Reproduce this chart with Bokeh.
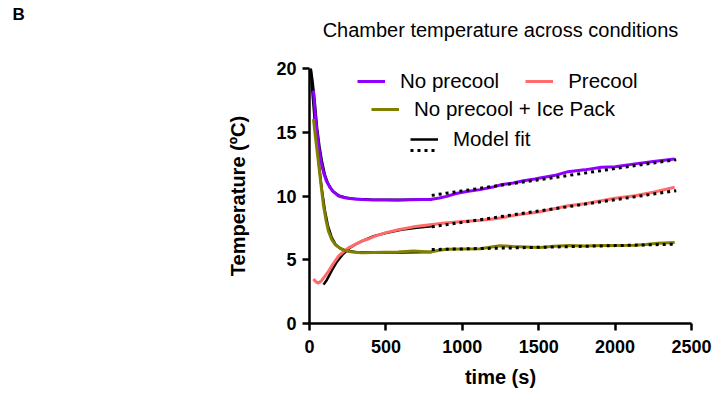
from bokeh.plotting import figure
from bokeh.models import Range1d, FixedTicker, Legend, LegendItem, LinearAxis, Title
from bokeh.embed import file_html
from bokeh.resources import INLINE

# ---------------- data ----------------
x_ticks = [0, 500, 1000, 1500, 2000, 2500]
y_ticks = [0, 5, 10, 15, 20]

nopre_t = [26, 40, 59, 75, 92, 110, 135, 160, 190, 230, 277, 350, 420, 495, 580, 660, 740, 789,
           850, 898, 960, 1029, 1116, 1200, 1260, 1333, 1400, 1475, 1508, 1600, 1693, 1800, 1911,
           2000, 2129, 2250, 2390]
nopre_v = [18.27, 16.0, 13.94, 12.7, 11.83, 11.2, 10.65, 10.3, 10.0, 9.86, 9.79, 9.72, 9.68, 9.68,
           9.66, 9.70, 9.72, 9.73, 9.85, 9.97, 10.2, 10.35, 10.5, 10.7, 10.9, 11.02, 11.2, 11.34,
           11.42, 11.6, 11.91, 12.05, 12.25, 12.3, 12.52, 12.7, 12.91]

pre_t = [26, 40, 55, 75, 100, 124, 150, 190, 220, 255, 300, 342, 390, 430, 495, 580, 680, 789,
         900, 1007, 1120, 1225, 1350, 1475, 1508, 1600, 1693, 1800, 1911, 2000, 2129, 2250, 2390]
pre_v = [3.49, 3.3, 3.17, 3.3, 3.7, 4.09, 4.6, 5.28, 5.6, 5.93, 6.2, 6.46, 6.65, 6.85, 7.11, 7.35,
         7.58, 7.74, 7.9, 8.0, 8.1, 8.24, 8.5, 8.71, 8.76, 9.0, 9.24, 9.4, 9.63, 9.82, 10.02, 10.3,
         10.68]

ice_t = [26, 40, 59, 75, 92, 108, 124, 145, 168, 200, 233, 280, 342, 420, 495, 580, 680, 789,
         850, 898, 1000, 1116, 1180, 1246, 1333, 1420, 1508, 1600, 1700, 1800, 1911, 2000, 2129,
         2200, 2280, 2390]
ice_v = [16.03, 14.5, 12.62, 10.9, 9.21, 8.1, 7.24, 6.6, 6.19, 5.9, 5.72, 5.6, 5.54, 5.56, 5.59,
         5.6, 5.69, 5.61, 5.75, 5.83, 5.85, 5.87, 5.98, 6.09, 6.04, 6.0, 5.96, 6.05, 6.11, 6.08,
         6.11, 6.12, 6.14, 6.2, 6.3, 6.35]

# model fits: solid (decay phase) and dotted (linear phase)
fit_nopre_t = [8, 20, 35, 50, 65, 80, 100, 120, 150, 190, 240, 300, 400, 600, 800]
fit_nopre_v = [20.0, 19.0, 17.3, 15.3, 13.9, 12.8, 11.7, 11.0, 10.4, 10.05, 9.87, 9.77, 9.72, 9.70, 9.72]
fit_ice_t = [8, 20, 35, 50, 65, 80, 100, 120, 145, 170, 200, 240, 300, 400, 600, 800]
fit_ice_v = [20.0, 18.0, 15.8, 13.9, 12.1, 10.6, 8.9, 7.7, 6.75, 6.2, 5.9, 5.7, 5.6, 5.57, 5.57, 5.6]
fit_pre_t = [92, 110, 130, 150, 180, 220, 260, 300, 350, 420, 500, 600, 700, 800]
fit_pre_v = [3.05, 3.35, 3.8, 4.25, 4.85, 5.45, 5.9, 6.2, 6.5, 6.85, 7.1, 7.35, 7.5, 7.62]

lin_t = [800, 1200, 1600, 2000, 2400]
lin_nopre_v = [10.05, 10.75, 11.45, 12.15, 12.85]
lin_pre_v = [7.58, 8.29, 9.0, 9.71, 10.42]
lin_ice_v = [5.8, 5.9, 6.0, 6.11, 6.22]

title_text = "Chamber temperature across conditions"
panel_letter = "B"

# ---------------- styling ----------------
FONT = "Liberation Sans"
PURPLE = "#8F00FF"
SALMON = "#FF6B6B"
OLIVE = "#808000"

p = figure(width=712, height=392, output_backend="svg", toolbar_location=None, title=None,
           x_range=Range1d(0, 2500), y_range=Range1d(0, 20),
           min_border_left=309, min_border_right=21, min_border_top=68, min_border_bottom=69)
p.outline_line_color = None
p.grid.visible = False
p.background_fill_color = "white"
p.border_fill_color = "white"

for ax in (p.xaxis[0], p.yaxis[0]):
    ax.axis_line_width = 2.5
    ax.axis_line_color = "black"
    ax.major_tick_line_width = 2.5
    ax.major_tick_line_color = "black"
    ax.major_tick_in = 0
    ax.major_tick_out = 7
    ax.minor_tick_line_color = None
    ax.major_label_text_font = FONT
    ax.major_label_text_font_style = "bold"
    ax.major_label_text_font_size = "18px"
    ax.major_label_text_color = "black"
    ax.axis_label_text_font = FONT
    ax.axis_label_text_font_style = "bold"
    ax.axis_label_text_font_size = "20px"
    ax.axis_label_text_color = "black"

p.xaxis.ticker = FixedTicker(ticks=x_ticks)
p.yaxis.ticker = FixedTicker(ticks=y_ticks)
p.xaxis.axis_label = "time (s)"
p.yaxis.axis_label = "Temperature (ºC)"
p.xaxis.major_label_standoff = 9
p.yaxis.major_label_standoff = 6
p.xaxis.axis_label_standoff = 10
p.yaxis.axis_label_standoff = 24

# chart title as the label of a bare axis above the frame
title_axis = LinearAxis(ticker=FixedTicker(ticks=[]), axis_line_color=None,
                        major_tick_line_color=None, minor_tick_line_color=None,
                        major_tick_out=0, major_label_standoff=0,
                        axis_label=title_text, axis_label_standoff=28,
                        axis_label_text_font=FONT, axis_label_text_font_size="20px",
                        axis_label_text_font_style="normal", axis_label_text_color="black")
p.add_layout(title_axis, "above")

# panel letter, outermost above (negative standoff pulls it down toward the title row)
p.add_layout(Title(text=panel_letter, align="left", offset=-297, standoff=-16,
                   text_font=FONT, text_font_size="17px", text_font_style="bold",
                   text_color="black"), "above")

# model fits (solid) underneath the data
fit_kw = dict(line_color="black", line_width=2.5)
r_fit = p.line(fit_nopre_t, fit_nopre_v, **fit_kw)
p.line(fit_ice_t, fit_ice_v, **fit_kw)
p.line(fit_pre_t, fit_pre_v, **fit_kw)

# data
r_nopre = p.line(nopre_t, nopre_v, line_color=PURPLE, line_width=3)
r_pre = p.line(pre_t, pre_v, line_color=SALMON, line_width=3)
r_ice = p.line(ice_t, ice_v, line_color=OLIVE, line_width=3)

# model fits (dotted) on top
dot_kw = dict(line_color="black", line_width=3, line_dash="3 4")
r_dot = p.line(lin_t, lin_nopre_v, **dot_kw)
p.line(lin_t, lin_pre_v, **dot_kw)
p.line(lin_t, lin_ice_v, **dot_kw)

# legends
def make_legend(items, loc, orientation="vertical"):
    lg = Legend(items=items, location=loc, orientation=orientation,
                padding=0, margin=0, spacing=26, label_standoff=15,
                glyph_width=28, glyph_height=20, label_height=20,
                label_text_font=FONT, label_text_font_size="20.5px",
                label_text_color="black",
                background_fill_alpha=0, border_line_color=None)
    p.add_layout(lg, "center")
    return lg

make_legend([LegendItem(label="No precool", renderers=[r_nopre]),
             LegendItem(label="Precool", renderers=[r_pre])], (48, 230), "horizontal")
make_legend([LegendItem(label="No precool + Ice Pack", renderers=[r_ice])], (62, 202))
make_legend([LegendItem(label="Model fit", renderers=[r_fit])], (101, 172))
make_legend([LegendItem(label=" ", renderers=[r_dot])], (101, 163))

open("out.html", "w").write(file_html(p, INLINE))
